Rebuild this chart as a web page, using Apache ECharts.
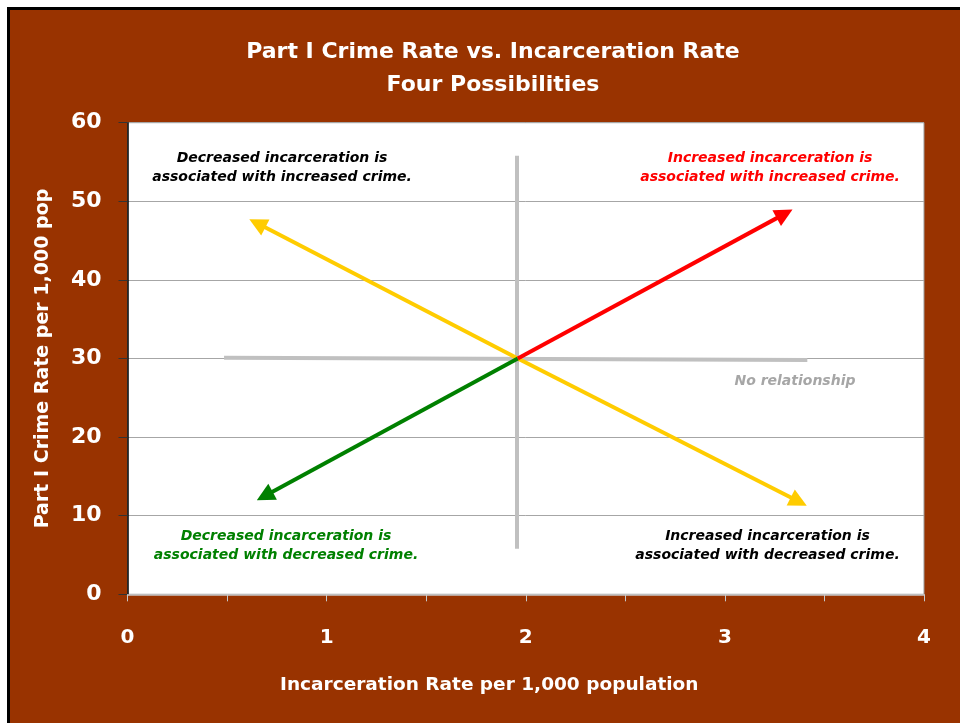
<!DOCTYPE html>
<html>
<head>
<meta charset="utf-8">
<script src="https://cdn.jsdelivr.net/npm/echarts@6/dist/echarts.min.js"></script>
<style>
  html, body { margin: 0; padding: 0; background: #ffffff; }
  #chart { width: 960px; height: 723px; }
</style>
</head>
<body>
<div id="chart"></div>
<script>
// ---- Data ----
const xTicks = [0, 1, 2, 3, 4];
const yTicks = [0, 10, 20, 30, 40, 50, 60];
const titleLines = ['Part I Crime Rate vs. Incarceration Rate', 'Four Possibilities'];
const xAxisName = 'Incarceration Rate per 1,000 population';
const yAxisName = 'Part I Crime Rate per 1,000 pop';

// origin of the four arrows (incarceration, crime)
const center = [1.96, 30.0];
// arrow end points
const arrowUpRight = [3.30, 48.4];     // red
const arrowUpLeft = [0.652, 47.2];     // yellow
const arrowDownLeft = [0.689, 12.5];   // green
const arrowDownRight = [3.371, 11.8];  // yellow

// "no relationship" reference lines
const horizLine = [[0.485, 30.1], [3.414, 29.8]];
const vertLine = [[1.955, 55.8], [1.955, 5.8]];

// annotations: [x, y, text]
const annotations = [
  [0.776, 54.3, 'Decreased incarceration is\nassociated with increased crime.'],
  [3.227, 54.3, 'Increased incarceration is\nassociated with increased crime.'],
  [0.796, 6.14, 'Decreased incarceration is\nassociated with decreased crime.'],
  [3.214, 6.14, 'Increased incarceration is\nassociated with decreased crime.'],
  [3.352, 27.03, 'No relationship']
];
const annotationColors = ['#000000', '#ff0000', '#008000', '#000000', '#a6a6a6'];

// ---- Chart ----
const FONT = '"DejaVu Sans", sans-serif';
const chart = echarts.init(document.getElementById('chart'));

const option = {
  backgroundColor: '#ffffff',
  animation: false,
  graphic: [
    {
      type: 'rect', z: -100, silent: true,
      shape: { x: 8.5, y: 8.5, width: 1000, height: 1000 },
      style: { fill: '#993300', stroke: '#000000', lineWidth: 3 }
    },
    {
      type: 'text', z: 100, x: 493, y: 52,
      style: { text: titleLines[0], fill: '#ffffff', font: 'bold 22px ' + FONT, textAlign: 'center', textVerticalAlign: 'middle' }
    },
    {
      type: 'text', z: 100, x: 493, y: 85,
      style: { text: titleLines[1], fill: '#ffffff', font: 'bold 22px ' + FONT, textAlign: 'center', textVerticalAlign: 'middle' }
    }
  ],
  grid: {
    left: 127.5, right: 36, top: 122.7, bottom: 128.7,
    show: true, backgroundColor: '#ffffff', borderColor: '#999999', borderWidth: 1
  },
  xAxis: {
    type: 'value', min: 0, max: 4, interval: 1,
    name: xAxisName, nameLocation: 'middle', nameGap: 81,
    nameTextStyle: { color: '#ffffff', fontSize: 18.5, fontWeight: 'bold', fontFamily: FONT, padding: [0, 73, 0, 0] },
    axisLine: { show: true, lineStyle: { color: '#c8c8c8', width: 1.5 } },
    axisTick: { show: true, length: 7, lineStyle: { color: '#c8c8c8', width: 1 } },
    minorTick: { show: true, splitNumber: 2, length: 7, lineStyle: { color: '#c8c8c8', width: 1 } },
    axisLabel: { color: '#ffffff', fontSize: 20, fontWeight: 'bold', fontFamily: FONT, margin: 33,
      formatter: v => xTicks.includes(v) ? String(v) : '' },
    splitLine: { show: false }
  },
  yAxis: {
    type: 'value', min: 0, max: 60, interval: 10,
    name: yAxisName, nameLocation: 'middle', nameGap: 75, nameRotate: 90,
    nameTextStyle: { color: '#ffffff', fontSize: 19, fontWeight: 'bold', fontFamily: FONT },
    axisLine: { show: true, lineStyle: { color: '#000000', width: 1.5 } },
    axisTick: { show: true, inside: false, length: 9, lineStyle: { color: '#333333', width: 1 } },
    axisLabel: { color: '#ffffff', fontSize: 22, fontWeight: 'bold', fontFamily: FONT, margin: 26,
      formatter: v => yTicks.includes(v) ? String(v) : '' },
    splitLine: { show: true, lineStyle: { color: '#a6a6a6', width: 1 } }
  },
  series: [
    {
      name: 'reference', type: 'lines', coordinateSystem: 'cartesian2d', z: 3,
      symbol: ['none', 'none'],
      lineStyle: { color: '#c0c0c0', width: 4, opacity: 1 },
      data: [ { coords: horizLine }, { coords: vertLine } ]
    },
    {
      name: 'arrows', type: 'lines', coordinateSystem: 'cartesian2d', z: 4,
      symbol: ['none', 'triangle'], symbolSize: 18,
      lineStyle: { width: 4, opacity: 1 },
      data: [
        { coords: [center, arrowUpLeft], lineStyle: { color: '#ffcc00' } },
        { coords: [center, arrowDownRight], lineStyle: { color: '#ffcc00' } },
        { coords: [center, arrowDownLeft], lineStyle: { color: '#008000' } },
        { coords: [center, arrowUpRight], lineStyle: { color: '#ff0000' } }
      ]
    },
    {
      name: 'annotations', type: 'scatter', z: 5, symbolSize: 0, silent: true,
      itemStyle: { opacity: 1 },
      data: annotations.map((a, i) => ({
        value: [a[0], a[1]],
        label: {
          show: true, position: 'inside', formatter: a[2],
          color: annotationColors[i], opacity: 1, textBorderWidth: 0,
          fontSize: 14, fontWeight: 'bold', fontStyle: 'italic',
          fontFamily: FONT, lineHeight: 19, align: 'center', verticalAlign: 'middle'
        }
      }))
    }
  ]
};
chart.setOption(option);
</script>
</body>
</html>
